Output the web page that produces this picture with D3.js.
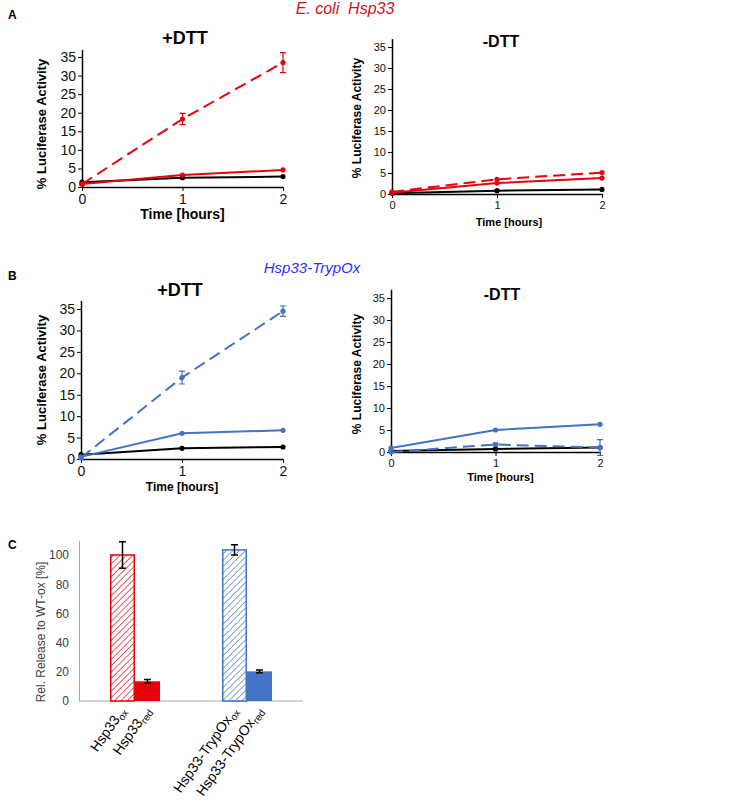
<!DOCTYPE html>
<html>
<head>
<meta charset="utf-8">
<script src="https://cdn.jsdelivr.net/npm/d3@7"></script>
<style>
  body { margin: 0; background: #fff; }
  svg { display: block; }
  text { font-family: "Liberation Sans", Arial, sans-serif; }
</style>
</head>
<body>
<svg id="chart" width="742" height="801"></svg>
<script>
// ---------------- DATA ----------------
const timePoints = [0, 1, 2];
const xTicksLine = [0, 1, 2];
const yTicksLine = [0, 5, 10, 15, 20, 25, 30, 35];

// Panel A (+DTT)
const aPlusRedDashed = [0.8, 18.3, 33.5];
const aPlusRedDashedErr = [0.3, 1.5, 2.7];
const aPlusRedSolid = [0.8, 3.2, 4.6];
const aPlusBlack = [1.3, 2.5, 2.8];
// Panel A (-DTT)
const aMinusRedDashed = [0.5, 3.5, 5.1];
const aMinusRedSolid = [0.3, 2.6, 3.8];
const aMinusBlack = [0.2, 0.8, 1.1];
// Panel B (+DTT)
const bPlusBlueDashed = [0.3, 19.0, 34.5];
const bPlusBlueDashedErr = [0.2, 1.5, 1.2];
const bPlusBlueSolid = [0.5, 6.0, 6.7];
const bPlusBlack = [1.0, 2.5, 2.8];
// Panel B (-DTT)
const bMinusBlueSolid = [0.9, 5.0, 6.3];
const bMinusBlueDashed = [0.0, 1.7, 1.0];
const bMinusBlueDashedErr = [0.0, 0.3, 1.8];
const bMinusBlack = [0.2, 0.7, 1.0];

// Panel C
const barBase = ["Hsp33", "Hsp33", "Hsp33-TrypOx", "Hsp33-TrypOx"];
const barSub = ["ox", "red", "ox", "red"];
const barGroups = ["Hsp33", "Hsp33-TrypOx"];
const barValues = [100, 13.5, 103.5, 20.3];
const barErrors = [9, 1.3, 3.5, 1.0];
const yTicksBar = [0, 20, 40, 60, 80, 100];

const RED = "#e8000b";
const BLUE = "#4472c4";

const svg = d3.select("#chart");

// ---------------- headers ----------------
svg.append("text").attr("x", 8).attr("y", 19).attr("font-size", 12).attr("font-weight", "bold").text("A");
svg.append("text").attr("x", 8).attr("y", 280).attr("font-size", 12).attr("font-weight", "bold").text("B");
svg.append("text").attr("x", 8).attr("y", 549).attr("font-size", 12).attr("font-weight", "bold").text("C");

svg.append("text").attr("x", 345).attr("y", 14).attr("text-anchor", "middle")
  .attr("font-size", 16).attr("font-style", "italic").attr("fill", "#d0101a")
  .attr("xml:space", "preserve").text("E. coli  Hsp33");
svg.append("text").attr("x", 312).attr("y", 273).attr("text-anchor", "middle")
  .attr("font-size", 15).attr("font-style", "italic").attr("fill", "#2f2fff")
  .text("Hsp33-TrypOx");

// ---------------- line panels ----------------
function linePanel(cfg) {
  const x = d3.scaleLinear().domain([0, 2]).range([cfg.x0, cfg.x2]);
  const y = d3.scaleLinear().domain([0, 37]).range([cfg.y0, cfg.y0 - 37 * cfg.ppu]);
  const g = svg.append("g");

  // title
  g.append("text").attr("x", cfg.titleX).attr("y", cfg.titleY).attr("text-anchor", "middle")
    .attr("font-size", cfg.titleSize).attr("font-weight", "bold").text(cfg.title);

  // axes
  const yAxis = d3.axisLeft(y).tickValues(yTicksLine).tickSize(4).tickSizeOuter(0);
  const ya = g.append("g").attr("transform", `translate(${cfg.x0},0)`).call(yAxis);
  ya.select(".domain").attr("stroke", "#000").attr("stroke-width", 1.5);
  ya.selectAll("line").attr("stroke", "#000");
  ya.selectAll("text").attr("font-size", cfg.tickSize).attr("fill", "#111")
    .attr("font-family", "Liberation Sans, Arial, sans-serif").attr("x", -6);

  const xAxis = d3.axisBottom(x).tickValues(xTicksLine).tickSize(4).tickSizeOuter(0).tickFormat(d3.format("d"));
  const xa = g.append("g").attr("transform", `translate(0,${cfg.y0})`).call(xAxis);
  xa.select(".domain").attr("stroke", "#000").attr("stroke-width", 1.5);
  xa.selectAll("line").attr("stroke", "#000");
  xa.selectAll("text").attr("font-size", cfg.tickSize).attr("fill", "#111")
    .attr("font-family", "Liberation Sans, Arial, sans-serif");

  // axis labels
  g.append("text").attr("transform", `translate(${cfg.ylabX},${cfg.ylabY}) rotate(-90)`)
    .attr("text-anchor", "middle").attr("font-size", cfg.labSize).attr("font-weight", "bold")
    .text("% Luciferase Activity");
  g.append("text").attr("x", (cfg.x0 + cfg.x2) / 2 + cfg.xlabDX).attr("y", cfg.xlabY).attr("text-anchor", "middle")
    .attr("font-size", cfg.xlabSize).attr("font-weight", "bold").text("Time [hours]");

  const line = d3.line().x((d, i) => x(timePoints[i])).y(d => y(d));
  cfg.series.forEach(s => {
    if (s.err) {
      s.values.forEach((v, i) => {
        const e = s.err[i];
        if (e <= 0.25) return;
        const cx = x(timePoints[i]);
        g.append("path")
          .attr("d", `M${cx - 3},${y(v + e)}H${cx + 3}M${cx},${y(v + e)}V${y(v - e)}M${cx - 3},${y(v - e)}H${cx + 3}`)
          .attr("stroke", s.color).attr("stroke-width", 1.2).attr("fill", "none");
      });
    }
    g.append("path").datum(s.values).attr("d", line)
      .attr("fill", "none").attr("stroke", s.color).attr("stroke-width", 2)
      .attr("stroke-dasharray", s.dashed ? "12,6" : null);
    g.selectAll(null).data(s.values).enter().append("circle")
      .attr("cx", (d, i) => x(timePoints[i])).attr("cy", d => y(d)).attr("r", 2.6)
      .attr("fill", s.color);
  });
}

linePanel({
  x0: 82, x2: 283, y0: 187, ppu: 3.714,
  title: "+DTT", titleX: 185, titleY: 44, titleSize: 18,
  tickSize: 14, labSize: 13, xlabSize: 14,
  ylabX: 46, ylabY: 124, xlabDX: 0, xlabY: 219,
  series: [
    { values: aPlusBlack, color: "#000" },
    { values: aPlusRedSolid, color: RED },
    { values: aPlusRedDashed, err: aPlusRedDashedErr, color: RED, dashed: true }
  ]
});
linePanel({
  x0: 392, x2: 602, y0: 194, ppu: 4.2,
  title: "-DTT", titleX: 501, titleY: 47, titleSize: 16,
  tickSize: 11, labSize: 12, xlabSize: 11,
  ylabX: 361, ylabY: 118, xlabDX: 12, xlabY: 226,
  series: [
    { values: aMinusBlack, color: "#000" },
    { values: aMinusRedSolid, color: RED },
    { values: aMinusRedDashed, color: RED, dashed: true }
  ]
});
linePanel({
  x0: 81, x2: 283, y0: 459, ppu: 4.286,
  title: "+DTT", titleX: 180, titleY: 296, titleSize: 18,
  tickSize: 14, labSize: 13, xlabSize: 12,
  ylabX: 46, ylabY: 380, xlabDX: 0, xlabY: 491,
  series: [
    { values: bPlusBlack, color: "#000" },
    { values: bPlusBlueSolid, color: BLUE },
    { values: bPlusBlueDashed, err: bPlusBlueDashedErr, color: BLUE, dashed: true }
  ]
});
linePanel({
  x0: 391, x2: 600, y0: 452, ppu: 4.4,
  title: "-DTT", titleX: 502, titleY: 300, titleSize: 16,
  tickSize: 11, labSize: 12, xlabSize: 11,
  ylabX: 361, ylabY: 374, xlabDX: 5, xlabY: 481,
  series: [
    { values: bMinusBlack, color: "#000" },
    { values: bMinusBlueDashed, err: bMinusBlueDashedErr, color: BLUE, dashed: true },
    { values: bMinusBlueSolid, color: BLUE }
  ]
});

// ---------------- bar panel ----------------
const defs = svg.append("defs");
[["hatchRed", RED], ["hatchBlue", BLUE]].forEach(([id, c]) => {
  const p = defs.append("pattern").attr("id", id).attr("patternUnits", "userSpaceOnUse")
    .attr("width", 4.5).attr("height", 4.5).attr("patternTransform", "rotate(45)");
  p.append("rect").attr("width", 4.5).attr("height", 4.5).attr("fill", "#fff");
  p.append("line").attr("x1", 0).attr("y1", 0).attr("x2", 0).attr("y2", 4.5)
    .attr("stroke", c).attr("stroke-width", 1.3);
});

const bx = d3.scaleBand().domain(barGroups).range([79, 303]);
const by = d3.scaleLinear().domain([0, 110]).range([701, 701 - 110 * 1.46]);
const gb = svg.append("g");
const barW = 25;

const ybAxis = d3.axisLeft(by).tickValues(yTicksBar).tickSize(0).tickSizeOuter(0);
const yba = gb.append("g").attr("transform", "translate(79,0)").call(ybAxis);
yba.select(".domain").attr("stroke", "#a6a6a6").attr("stroke-width", 1);
yba.selectAll("text").attr("font-size", 12).attr("fill", "#404040").attr("x", -10)
  .attr("font-family", "Open Sans, Liberation Sans, sans-serif");
gb.append("line").attr("x1", 79).attr("x2", 303).attr("y1", 701).attr("y2", 701)
  .attr("stroke", "#a6a6a6").attr("stroke-width", 1.2);

gb.append("text").attr("transform", "translate(45,632) rotate(-90)").attr("text-anchor", "middle")
  .attr("font-size", 12).attr("fill", "#404040").attr("font-family", "Open Sans, Liberation Sans, sans-serif")
  .text("Rel. Release to WT-ox [%]");

barValues.forEach((v, i) => {
  const grp = barGroups[Math.floor(i / 2)];
  const cxg = bx(grp) + bx.bandwidth() / 2;
  const left = i % 2 === 0 ? cxg - barW : cxg;
  const color = i < 2 ? RED : BLUE;
  const hatched = i % 2 === 0;
  gb.append("rect").attr("x", left + (hatched ? 0.75 : 0)).attr("y", by(v))
    .attr("width", barW - (hatched ? 1.5 : 0)).attr("height", by(0) - by(v))
    .attr("fill", hatched ? (i < 2 ? "url(#hatchRed)" : "url(#hatchBlue)") : color)
    .attr("stroke", hatched ? color : "none").attr("stroke-width", 1.5);
  const ex = left + barW / 2, e = barErrors[i];
  gb.append("path")
    .attr("d", `M${ex - 3.5},${by(v + e)}H${ex + 3.5}M${ex},${by(v + e)}V${by(v - e)}M${ex - 3.5},${by(v - e)}H${ex + 3.5}`)
    .attr("stroke", "#000").attr("stroke-width", 1.5).attr("fill", "none");

  const t = gb.append("text")
    .attr("transform", `translate(${ex + 4},${711}) rotate(-55)`)
    .attr("text-anchor", "end").attr("font-size", 14).attr("fill", "#000")
    .attr("font-family", "Liberation Sans, Arial, sans-serif");
  t.append("tspan").text(barBase[i]);
  t.append("tspan").attr("font-size", 10).attr("dy", 3).text(barSub[i]);
});
</script>
</body>
</html>
